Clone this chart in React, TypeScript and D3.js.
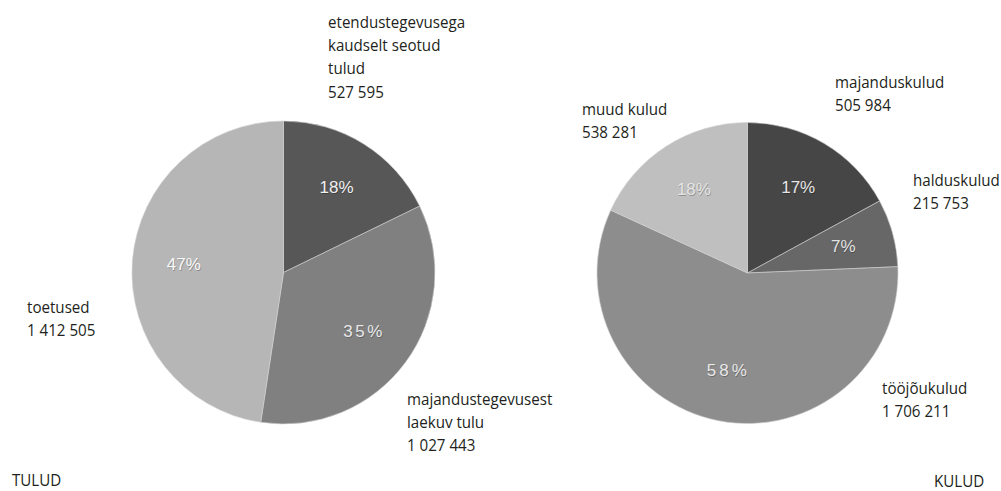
import React from "react";
import * as d3 from "d3";

// TULUD (income)
const incomeNames = ["etendustegevusega kaudselt seotud tulud", "majandustegevusest laekuv tulu", "toetused"];
const incomeValues = [527595, 1027443, 1412505];
const incomePct = ["18%", "35%", "47%"];
const incomeColors = ["#575757", "#808080", "#b6b6b6"];

// KULUD (expenses)
const costNames = ["majanduskulud", "halduskulud", "tööjõukulud", "muud kulud"];
const costValues = [505984, 215753, 1706211, 538281];
const costPct = ["17%", "7%", "58%", "18%"];
const costColors = ["#464646", "#676767", "#8d8d8d", "#bfbfbf"];

// label text blocks (lines)
const incomeLabelLines = [
  ["etendustegevusega", "kaudselt seotud", "tulud", "527 595"],
  ["majandustegevusest", "laekuv tulu", "1 027 443"],
  ["toetused", "1 412 505"],
];
const costLabelLines = [
  ["majanduskulud", "505 984"],
  ["halduskulud", "215 753"],
  ["tööjõukulud", "1 706 211"],
  ["muud kulud", "538 281"],
];

const W = 1001;
const H = 491;
const LABEL_FONT = "'Open Sans', sans-serif";
const PCT_FONT = "'Liberation Sans', Arial, sans-serif";
const SX = 0.89;

type PieProps = {
  cx: number;
  cy: number;
  r: number;
  values: number[];
  colors: string[];
  pcts: string[];
  pctColors: string[];
  spacing: number[];
};

function Pie({ cx, cy, r, values, colors, pcts, pctColors, spacing }: PieProps) {
  const pie = d3.pie<number>().sort(null).value((d) => d);
  const arcs = pie(values);
  const arc = d3.arc<d3.PieArcDatum<number>>().innerRadius(0).outerRadius(r);
  const labelArc = d3.arc<d3.PieArcDatum<number>>().innerRadius(r * 0.66).outerRadius(r * 0.66);
  return (
    <g transform={`translate(${cx},${cy})`}>
      {arcs.map((a, i) => (
        <path key={i} d={arc(a) || ""} fill={colors[i]} stroke="#d0d0d0" strokeWidth={0.6} />
      ))}
      {arcs.map((a, i) => {
        const [x, y] = labelArc.centroid(a);
        return (
          <g key={"t" + i}>
            <text
              x={x + 0.7}
              y={y + 0.8}
              textAnchor="middle"
              dominantBaseline="central"
              fontFamily={PCT_FONT}
              fontSize={17}
              letterSpacing={spacing[i]}
              fill="rgba(0,0,0,0.25)"
            >
              {pcts[i]}
            </text>
            <text
              x={x}
              y={y}
              textAnchor="middle"
              dominantBaseline="central"
              fontFamily={PCT_FONT}
              fontSize={17}
              letterSpacing={spacing[i]}
              fill={pctColors[i]}
            >
              {pcts[i]}
            </text>
          </g>
        );
      })}
    </g>
  );
}

function Label({ x, y, lines, spacing = 0 }: { x: number; y: number; lines: string[]; spacing?: number }) {
  return (
    <g transform={`translate(${x},${y}) scale(${SX},1)`}>
      <text x={0} y={0} fontFamily={LABEL_FONT} fontSize={17} fill="#231f20" letterSpacing={spacing}>
        {lines.map((l, i) => (
          <tspan key={i} x={0} dy={i === 0 ? 0 : 23.2}>
            {l}
          </tspan>
        ))}
      </text>
    </g>
  );
}

export default function App() {
  return (
    <svg
      width={W}
      height={H}
      viewBox={`0 0 ${W} ${H}`}
      style={{ position: "absolute", left: 0, top: 0, background: "#fff" }}
    >
      <rect width={W} height={H} fill="#fff" />
      <Pie
        cx={283.5}
        cy={272.5}
        r={151.5}
        values={incomeValues}
        colors={incomeColors}
        pcts={incomePct}
        pctColors={["#f0f0f0", "#e8e8e8", "#f8f8f8"]}
        spacing={[0, 2.5, 0]}
      />
      <Pie
        cx={747.5}
        cy={273}
        r={150.5}
        values={costValues}
        colors={costColors}
        pcts={costPct}
        pctColors={["#e6e6e6", "#e2e2e2", "#e8e8e8", "#e4e4e4"]}
        spacing={[0, 0, 3, 0]}
      />
      <Label x={328} y={28} lines={incomeLabelLines[0]} />
      <Label x={407} y={405} lines={incomeLabelLines[1]} />
      <Label x={27} y={313} lines={incomeLabelLines[2]} />
      <Label x={835} y={88} lines={costLabelLines[0]} />
      <Label x={913} y={186} lines={costLabelLines[1]} />
      <Label x={882} y={394} lines={costLabelLines[2]} />
      <Label x={582} y={115} lines={costLabelLines[3]} />
      <Label x={12} y={486} lines={["TULUD"]} />
      <Label x={934} y={487} lines={["KULUD"]} />
    </svg>
  );
}
